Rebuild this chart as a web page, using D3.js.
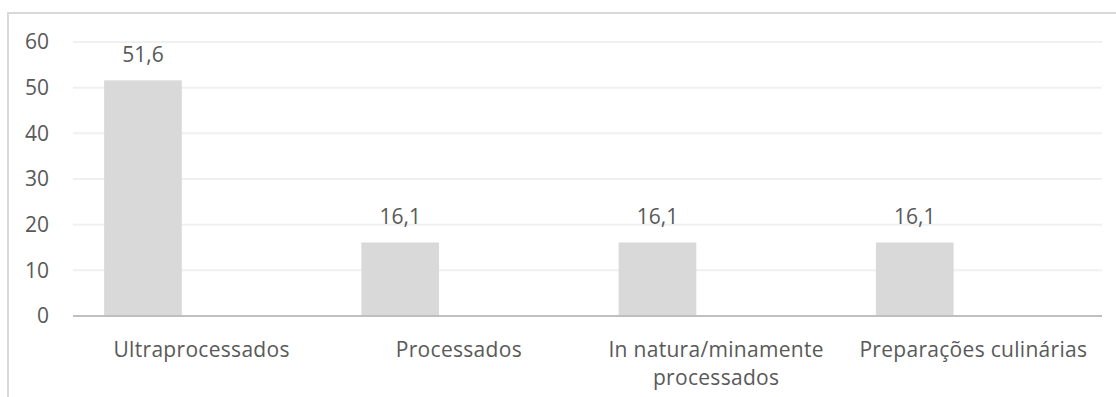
<!DOCTYPE html>
<html>
<head>
<meta charset="utf-8">
<script src="https://cdn.jsdelivr.net/npm/d3@7"></script>
<style>
  html, body { margin: 0; padding: 0; background: #fff; }
  svg { display: block; }
  text { font-family: "Open Sans", sans-serif; fill: #595959; }
</style>
</head>
<body>
<svg id="chart" width="1116" height="397"></svg>
<script>
// Share of items by processing group (%)
const categories = [
  ["Ultraprocessados"],
  ["Processados"],
  ["In natura/minamente", "processados"],
  ["Preparações culinárias"]
];
const values = [51.6, 16.1, 16.1, 16.1];
const valueLabels = ["51,6", "16,1", "16,1", "16,1"];
const yTicks = [0, 10, 20, 30, 40, 50, 60];

const W = 1116, H = 397;
const plot = { left: 73, right: 1102, top: 42, bottom: 316 };
const FS = 21;

const svg = d3.select("#chart");

// outer chart frame (runs past the right and bottom edges)
svg.append("rect")
  .attr("x", 8).attr("y", 13)
  .attr("width", W + 20).attr("height", H + 20)
  .attr("fill", "#fff")
  .attr("stroke", "#d9d9d9").attr("stroke-width", 2);

const keys = categories.map(c => c.join(" "));

const x = d3.scaleBand()
  .domain(keys)
  .range([plot.left, plot.right])
  .padding(0);

const y = d3.scaleLinear()
  .domain([0, 60])
  .range([plot.bottom, plot.top]);

// gridlines
svg.append("g")
  .selectAll("line")
  .data(yTicks.filter(t => t > 0))
  .join("line")
  .attr("x1", plot.left).attr("x2", plot.right)
  .attr("y1", d => y(d)).attr("y2", d => y(d))
  .attr("stroke", "#f0f0f0").attr("stroke-width", 2);

// y tick labels
svg.append("g")
  .selectAll("text")
  .data(yTicks)
  .join("text")
  .attr("x", 49)
  .attr("y", d => y(d))
  .attr("dy", "0.35em")
  .attr("text-anchor", "end")
  .attr("font-size", FS)
  .text(d => d);

// bars: single series sits in the left part of each category slot
const bw = x.bandwidth();
const barOffset = bw * 0.121;
const barWidth = bw * 0.302;

svg.append("g")
  .selectAll("rect")
  .data(values)
  .join("rect")
  .attr("x", (d, i) => x(keys[i]) + barOffset)
  .attr("width", barWidth)
  .attr("y", d => y(d))
  .attr("height", d => y(0) - y(d))
  .attr("fill", "#d9d9d9");

// value labels
svg.append("g")
  .selectAll("text")
  .data(values)
  .join("text")
  .attr("x", (d, i) => x(keys[i]) + barOffset + barWidth / 2)
  .attr("y", d => y(d) - 18)
  .attr("text-anchor", "middle")
  .attr("font-size", FS)
  .text((d, i) => valueLabels[i]);

// baseline axis
svg.append("line")
  .attr("x1", plot.left).attr("x2", plot.right)
  .attr("y1", y(0)).attr("y2", y(0))
  .attr("stroke", "#bfbfbf").attr("stroke-width", 2);

// category labels
const cat = svg.append("g")
  .selectAll("text")
  .data(categories)
  .join("text")
  .attr("x", (d, i) => x(keys[i]) + bw / 2)
  .attr("y", 357)
  .attr("text-anchor", "middle")
  .attr("font-size", FS)
  .attr("letter-spacing", 0.3);

cat.selectAll("tspan")
  .data(d => d)
  .join("tspan")
  .attr("x", function () { return d3.select(this.parentNode).attr("x"); })
  .attr("dy", (d, i) => i === 0 ? 0 : 28)
  .text(d => d);
</script>
</body>
</html>
